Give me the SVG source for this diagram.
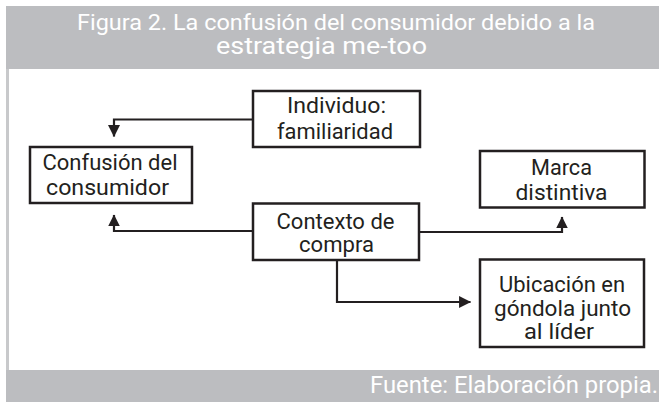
<svg xmlns="http://www.w3.org/2000/svg" width="659" height="402" viewBox="0 0 659 402">
<style>
.band{fill:#bcbdc0}
.box{fill:#fff;stroke:#231f20;stroke-width:2.5}
.t{font-family:Roboto,"Liberation Sans",sans-serif;font-size:22.5px;fill:#231f20;text-anchor:middle}
.w{font-family:Roboto,"Liberation Sans",sans-serif;font-size:22px;fill:#fff}
.c{fill:none;stroke:#231f20;stroke-width:2.2}
</style>
<defs>
<marker id="ah" markerUnits="userSpaceOnUse" markerWidth="12" markerHeight="12" viewBox="0 0 11 11" refX="10.5" refY="5.5" orient="auto">
<path d="M0,0 L11,5.5 L0,11 z" fill="#231f20"/>
</marker>
</defs>
<rect width="659" height="402" fill="#fff"/>
<g id="header">
<rect class="band" x="6" y="6" width="653" height="63"/>
<text class="w" x="336" y="29.5" text-anchor="middle" textLength="518" lengthAdjust="spacingAndGlyphs">Figura 2. La confusión del consumidor debido a la</text>
<text class="w" x="321.5" y="54" text-anchor="middle" style="font-size:23px" textLength="211" lengthAdjust="spacingAndGlyphs">estrategia me-too</text>
</g>
<rect x="6" y="69" width="3" height="301" fill="#c8c9cb"/>
<g id="footer">
<rect class="band" x="6" y="370" width="653" height="32"/>
<text class="w" x="658" y="393" text-anchor="end" style="font-size:23.5px" textLength="288" lengthAdjust="spacingAndGlyphs">Fuente: Elaboración propia.</text>
</g>
<g id="connectors">
<path class="c" d="M253,119.5 H114 V136.5" marker-end="url(#ah)"/>
<path class="c" d="M253,231 H114 V215" marker-end="url(#ah)"/>
<path class="c" d="M419,232 H562 V217" marker-end="url(#ah)"/>
<path class="c" d="M337,260 V302 H470.5" marker-end="url(#ah)"/>
</g>
<g id="individuo">
<rect class="box" x="253" y="91" width="167" height="56"/>
<text class="t" x="336.5" y="113" textLength="99" lengthAdjust="spacingAndGlyphs">Individuo:</text>
<text class="t" x="335" y="138.5" textLength="116" lengthAdjust="spacingAndGlyphs">familiaridad</text>
</g>
<g id="confusion">
<rect class="box" x="30" y="147" width="162" height="56"/>
<text class="t" x="110" y="170" textLength="135" lengthAdjust="spacingAndGlyphs">Confusión del</text>
<text class="t" x="107.5" y="195" textLength="123" lengthAdjust="spacingAndGlyphs">consumidor</text>
</g>
<g id="marca">
<rect class="box" x="480" y="151" width="164.5" height="56.5"/>
<text class="t" x="561.5" y="174.5" textLength="61" lengthAdjust="spacingAndGlyphs">Marca</text>
<text class="t" x="561.5" y="199.5" textLength="92" lengthAdjust="spacingAndGlyphs">distintiva</text>
</g>
<g id="contexto">
<rect class="box" x="253" y="203.5" width="166" height="56.5"/>
<text class="t" x="335.5" y="228.5" textLength="118" lengthAdjust="spacingAndGlyphs">Contexto de</text>
<text class="t" x="336.5" y="252" textLength="75" lengthAdjust="spacingAndGlyphs">compra</text>
</g>
<g id="ubicacion">
<rect class="box" x="480" y="259.5" width="164" height="87.5"/>
<text class="t" x="562" y="292" textLength="126" lengthAdjust="spacingAndGlyphs">Ubicación en</text>
<text class="t" x="562.5" y="315.5" textLength="137" lengthAdjust="spacingAndGlyphs">góndola junto</text>
<text class="t" x="559" y="339" textLength="70" lengthAdjust="spacingAndGlyphs">al líder</text>
</g>
</svg>
